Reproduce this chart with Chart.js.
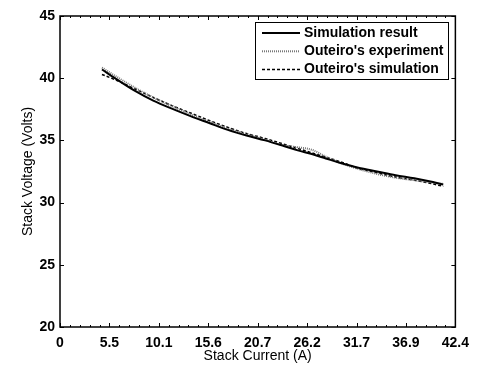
<!DOCTYPE html>
<html>
<head>
<meta charset="utf-8">
<script src="https://cdn.jsdelivr.net/npm/chart.js@4.4.1/dist/chart.umd.min.js"></script>
<style>
  html, body { margin: 0; padding: 0; background: #fff; }
  canvas { display: block; }
</style>
</head>
<body>
<canvas id="vi" width="477" height="365"></canvas>
<script>
// stack current (A) and the three voltage curves (V)
const current = [4.5, 6, 8, 10, 12, 14, 16, 18, 20, 22, 24, 25.5, 27, 28.5, 30, 32, 34, 36, 38, 40, 41.1];
const simResult = [40.7, 39.95, 39.0, 38.2, 37.55, 36.95, 36.4, 35.85, 35.4, 35.0, 34.55, 34.2, 33.9, 33.55, 33.2, 32.8, 32.5, 32.2, 31.95, 31.65, 31.45];
const outeiroExp = [40.85, 40.15, 39.25, 38.45, 37.75, 37.1, 36.5, 35.95, 35.5, 35.05, 34.6, 34.45, 34.25, 33.7, 33.2, 32.7, 32.3, 32.0, 31.8, 31.6, 31.5];
const outeiroSim = [40.3, 39.85, 39.15, 38.45, 37.8, 37.2, 36.6, 36.05, 35.55, 35.15, 34.7, 34.35, 34.0, 33.65, 33.3, 32.75, 32.4, 32.05, 31.8, 31.5, 31.3];

const seriesNames = ["Simulation result", "Outeiro's experiment", "Outeiro's simulation"];
const xTickLabels = ["0", "5.5", "10.1", "15.6", "20.7", "26.2", "31.7", "36.9", "42.4"];
const xMax = 42.4;
const yTicks = [20, 25, 30, 35, 40, 45];

const FONT = "'Liberation Sans', Arial, sans-serif";
Chart.defaults.color = "#000";
Chart.defaults.font.family = FONT;

function pts(ys) {
    return current.map((x, i) => ({ x: x, y: ys[i] }));
}

// ---------------- FRAME, INWARD TICKS, LEGEND ----------------
const framePlugin = {
    id: "frame",
    afterDatasetsDraw(chart) {
        const ctx = chart.ctx;
        const a = chart.chartArea;
        const xs = chart.scales.x, ys = chart.scales.y;
        ctx.save();
        ctx.strokeStyle = "#000";
        ctx.lineWidth = 1;

        ctx.beginPath();
        // x ticks top and bottom, 5 minor steps per major
        const step = xMax / (xTickLabels.length - 1);
        for (let i = 0; i <= (xTickLabels.length - 1) * 5; i++) {
            const px = Math.round(xs.getPixelForValue(i * step / 5)) + 0.5;
            const len = i % 5 === 0 ? 4 : 2;
            ctx.moveTo(px, a.bottom); ctx.lineTo(px, a.bottom - len);
            ctx.moveTo(px, a.top); ctx.lineTo(px, a.top + len);
        }
        yTicks.forEach(v => {
            const py = Math.round(ys.getPixelForValue(v)) + 0.5;
            ctx.moveTo(a.left, py); ctx.lineTo(a.left + 4, py);
            ctx.moveTo(a.right, py); ctx.lineTo(a.right - 4, py);
        });
        ctx.stroke();

        ctx.lineWidth = 1.5;
        ctx.strokeRect(a.left, a.top, a.right - a.left, a.bottom - a.top);

        // legend box
        const bx = 255, by = 22, bw = 193, bh = 57;
        ctx.fillStyle = "#fff";
        ctx.fillRect(bx, by, bw, bh);
        ctx.lineWidth = 1;
        ctx.strokeRect(bx + 0.5, by + 0.5, bw, bh);

        ctx.font = "bold 14px " + FONT;
        ctx.textBaseline = "middle";
        chart.data.datasets.forEach((ds, i) => {
            const ly = by + 11 + i * 18.3;
            ctx.strokeStyle = ds.borderColor;
            ctx.lineWidth = ds.borderWidth;
            ctx.setLineDash(ds.borderDash || []);
            ctx.beginPath();
            ctx.moveTo(262, ly); ctx.lineTo(300, ly);
            ctx.stroke();
            ctx.setLineDash([]);
            ctx.fillStyle = "#000";
            ctx.fillText(ds.label, 304, ly);
        });
        ctx.restore();
    }
};

new Chart(document.getElementById("vi"), {
    type: "line",
    data: {
        datasets: [
            {
                label: seriesNames[0],
                data: pts(simResult),
                borderColor: "#000",
                borderWidth: 2
            },
            {
                label: seriesNames[1],
                data: pts(outeiroExp),
                borderColor: "#777",
                borderWidth: 2,
                borderDash: [1, 1]
            },
            {
                label: seriesNames[2],
                data: pts(outeiroSim),
                borderColor: "#000",
                borderWidth: 1.5,
                borderDash: [3, 2]
            }
        ]
    },
    plugins: [framePlugin],
    options: {
        responsive: false,
        animation: false,
        devicePixelRatio: 1,
        layout: { padding: { top: 16, right: 21, left: 0, bottom: 0 } },
        elements: {
            point: { radius: 0 },
            line: { cubicInterpolationMode: "monotone", fill: false }
        },
        plugins: {
            legend: { display: false },
            tooltip: { enabled: false }
        },
        scales: {
            x: {
                type: "linear",
                min: 0,
                max: xMax,
                grid: { display: false, drawTicks: false },
                border: { display: false },
                afterBuildTicks(scale) {
                    scale.ticks = xTickLabels.map((l, i) => ({ value: i * xMax / (xTickLabels.length - 1) }));
                },
                afterFit(scale) { scale.height = 38; },
                ticks: {
                    autoSkip: false,
                    maxRotation: 0,
                    padding: 8,
                    font: { size: 14, weight: "bold" },
                    callback: (v, i) => xTickLabels[i]
                },
                title: {
                    display: true,
                    text: "Stack Current (A)",
                    font: { size: 14 },
                    padding: { top: 0, bottom: 0 }
                }
            },
            y: {
                min: 20,
                max: 45,
                grid: { display: false, drawTicks: false },
                border: { display: false },
                afterFit(scale) { scale.width = 60; },
                ticks: {
                    stepSize: 5,
                    padding: 5,
                    font: { size: 14, weight: "bold" }
                },
                title: {
                    display: true,
                    text: "Stack Voltage (Volts)",
                    font: { size: 14 },
                    padding: { top: 20, bottom: 0 }
                }
            }
        }
    }
});
</script>
</body>
</html>
